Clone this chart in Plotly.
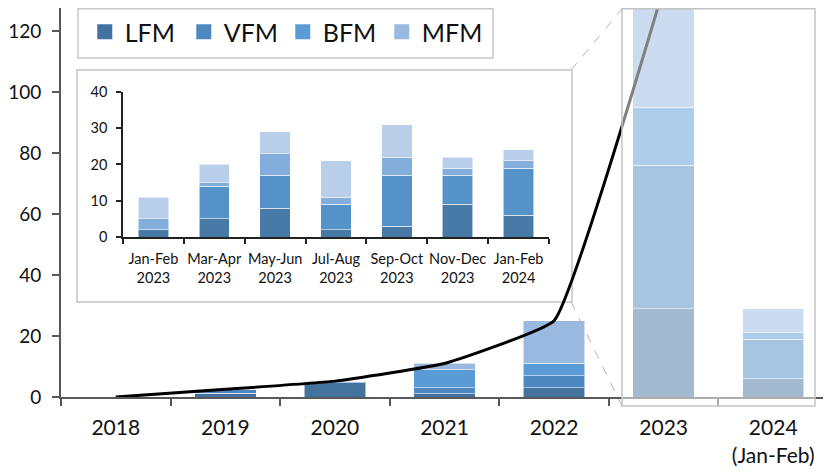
import plotly.graph_objects as go

# yearly totals by type (main chart)
years = ["2018", "2019", "2020", "2021", "2022", "2023", "2024<br>(Jan-Feb)"]
lfm = [0, 1.2, 4.7, 1, 3, 29, 6]
vfm = [0, 1.3, 0.5, 2, 4, 47, 13]
bfm = [0, 0, 0, 6, 4, 19, 2]
mfm = [0, 0, 0, 2, 14, 39, 8]
totals = [0, 2.5, 5.2, 11, 25, 134]

# two-month periods (inset chart)
periods = ["Jan-Feb<br>2023", "Mar-Apr<br>2023", "May-Jun<br>2023", "Jul-Aug<br>2023",
           "Sep-Oct<br>2023", "Nov-Dec<br>2023", "Jan-Feb<br>2024"]
lfm_p = [2, 5, 8, 2, 3, 9, 6]
vfm_p = [0, 9, 9, 7, 14, 8, 13]
bfm_p = [3, 1, 6, 2, 5, 2, 2]
mfm_p = [6, 5, 6, 10, 9, 3, 3]

names = ["LFM", "VFM", "BFM", "MFM"]
main_colors = ["#44729E", "#4E88C0", "#5B9BD5", "#99B9E0"]
inset_colors = ["#487AA8", "#5592C8", "#83AEDC", "#B9CEE9"]
font = "Lato, 'Open Sans', sans-serif"
sep = dict(color="rgba(255,255,255,0.55)", width=1)

fig = go.Figure()

for name, vals, col in zip(names, [lfm, vfm, bfm, mfm], main_colors):
    fig.add_trace(go.Bar(x=years, y=vals, name=name, marker=dict(color=col, line=sep),
                         width=0.56, showlegend=False, xaxis="x", yaxis="y"))

fig.add_trace(go.Scatter(x=years[:len(totals)], y=totals, mode="lines", showlegend=False,
                         line=dict(color="black", width=3, shape="spline", smoothing=0.3)))

for name, vals, col in zip(names, [lfm_p, vfm_p, bfm_p, mfm_p], inset_colors):
    fig.add_trace(go.Bar(x=periods, y=vals, name=name, marker=dict(color=col, line=sep),
                         width=0.5, showlegend=False, xaxis="x2", yaxis="y2"))

# legend entries with bigger square swatches
for name, col in zip(names, main_colors):
    fig.add_trace(go.Scatter(x=[None], y=[None], mode="markers", name=name,
                             marker=dict(symbol="square", size=15, color=col)))

fig.update_layout(
    width=831, height=472,
    margin=dict(l=53, r=11, t=0, b=83),
    paper_bgcolor="white", plot_bgcolor="rgba(0,0,0,0)",
    barmode="stack",
    font=dict(family=font, size=21, color="#111"),
    showlegend=True,
    legend=dict(orientation="h", x=0.031, y=0.938, xanchor="left", yanchor="middle",
                traceorder="normal", bgcolor="rgba(0,0,0,0)", borderwidth=0,
                font=dict(size=25), itemwidth=30, entrywidth=54),
    xaxis=dict(type="category", categoryorder="array", categoryarray=years,
               range=[-0.5, 6.5], tickson="boundaries", ticks="outside", ticklen=7,
               tickwidth=2, tickcolor="#595959", showline=True, linecolor="#595959",
               linewidth=2, showgrid=False, zeroline=False, ticklabelstandoff=11,
               automargin=False),
    yaxis=dict(range=[0, 127.5], tickvals=[0, 20, 40, 60, 80, 100, 120], ticks="outside",
               ticklen=7, tickwidth=2, tickcolor="#595959", showline=True,
               linecolor="#595959", linewidth=2, showgrid=False, zeroline=False,
               ticklabelstandoff=7, tickfont=dict(size=19), automargin=False),
    xaxis2=dict(type="category", categoryorder="array", categoryarray=periods,
                domain=[0.0808, 0.6362], anchor="y2", range=[-0.5, 6.5],
                tickson="boundaries", ticks="outside", ticklen=5, tickwidth=1.5,
                tickcolor="#222", showline=True, linecolor="#222", linewidth=1.5,
                showgrid=False, zeroline=False, tickfont=dict(size=14.5), tickangle=0,
                ticklabelstandoff=8, automargin=False),
    yaxis2=dict(domain=[0.4113, 0.7841], anchor="x2", range=[0, 40], dtick=10,
                ticks="outside", ticklen=5, tickwidth=1.5, tickcolor="#222",
                showline=True, linecolor="#222", linewidth=1.5, showgrid=False,
                zeroline=False, tickfont=dict(size=14.5), ticklabelstandoff=6,
                automargin=False),
    shapes=[
        # legend frame
        dict(type="rect", xref="paper", yref="paper", x0=0.0222, x1=0.5632,
             y0=0.8715, y1=0.998, line=dict(color="#c8c8c8", width=1.5),
             fillcolor="white", layer="below"),
        # inset frame (semi-transparent)
        dict(type="rect", xref="x2 domain", yref="y2 domain", x0=-0.108, x1=1.054,
             y0=-0.448, y1=1.152, line=dict(color="#c4c4c4", width=1.5),
             fillcolor="rgba(255,255,255,0.5)", layer="below"),
        # zoom frame over 2023-2024
        dict(type="rect", xref="paper", yref="paper", x0=0.7314, x1=0.983,
             y0=-0.0231, y1=0.998, line=dict(color="#c4c4c4", width=1.5),
             fillcolor="rgba(255,255,255,0.5)", layer="above"),
        # connectors
        dict(type="line", xref="paper", yref="paper", x0=0.665, y0=0.8406,
             x1=0.7314, y1=0.998, line=dict(color="#b4b4b4", width=1, dash="dash")),
        dict(type="line", xref="paper", yref="paper", x0=0.665, y0=0.2442,
             x1=0.7314, y1=-0.0231, line=dict(color="#b4b4b4", width=1, dash="dash")),
    ],
)

fig.write_html("out.html")
